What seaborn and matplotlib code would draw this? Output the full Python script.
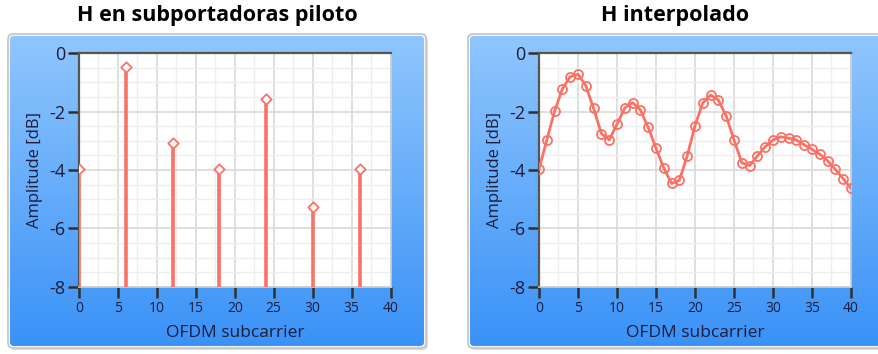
import numpy as np
import matplotlib
matplotlib.use("Agg")
import matplotlib.pyplot as plt
from matplotlib.patches import FancyBboxPatch
from matplotlib.ticker import MultipleLocator
import pandas as pd
import seaborn as sns

# pilot subcarriers (left panel)
pilot_carrier = [0, 6, 12, 18, 24, 30, 36]
pilot_db = [-3.98, -0.48, -3.06, -3.98, -1.58, -5.26, -3.98]

# interpolated channel (right panel)
interp_carrier = list(range(41))
interp_db = [-3.98, -2.97, -1.98, -1.22, -0.80, -0.72, -1.11, -1.89, -2.75, -2.97,
             -2.43, -1.87, -1.69, -1.94, -2.54, -3.25, -3.94, -4.46, -4.35, -3.52,
             -2.48, -1.70, -1.43, -1.60, -2.15, -2.97, -3.75, -3.85, -3.52, -3.20,
             -2.97, -2.86, -2.91, -2.97, -3.14, -3.29, -3.46, -3.68, -3.98, -4.30,
             -4.63]

W, H = 879, 354
RED = "#fa7166"
TXT = "#1c1c3a"

sns.set_theme(style="white")
plt.rcParams["font.family"] = ["Open Sans", "DejaVu Sans"]
plt.rcParams["axes.unicode_minus"] = False

fig = plt.figure(figsize=(W / 100, H / 100), dpi=100)

# background panels (pixel coordinates)
bg = fig.add_axes([0, 0, 1, 1], zorder=-5)
bg.axis("off")

grad = np.linspace(0, 1, 256).reshape(-1, 1)
cmap = matplotlib.colors.LinearSegmentedColormap.from_list("panel", ["#90c6fd", "#3a92f7"])

for x0, x1 in [(10, 424), (470, 886)]:
    y0, y1 = 36, 346
    shadow = FancyBboxPatch((x0, y0), x1 - x0 + 4, y1 - y0 + 4,
                            boxstyle="round,pad=0,rounding_size=5",
                            fc="#dcdcdc", ec="none", zorder=0)
    bg.add_patch(shadow)
    border = FancyBboxPatch((x0 - 2, y0 - 2), x1 - x0 + 4, y1 - y0 + 4,
                            boxstyle="round,pad=0,rounding_size=5",
                            fc="#f6f6f6", ec="#c4c4c4", lw=1.2, zorder=1)
    bg.add_patch(border)
    clip = FancyBboxPatch((x0, y0), x1 - x0, y1 - y0,
                          boxstyle="round,pad=0,rounding_size=4",
                          fc="none", ec="none", zorder=1)
    bg.add_patch(clip)
    im = bg.imshow(grad, extent=(x0, x1, y1, y0), cmap=cmap, aspect="auto", zorder=2)
    im.set_clip_path(clip)

bg.text(217, 15, "H en subportadoras piloto", ha="center", va="center",
        fontsize=15.5, fontweight="bold", color="black")
bg.text(675, 15, "H interpolado", ha="center", va="center",
        fontsize=15.5, fontweight="bold", color="black")
bg.set_xlim(0, W)
bg.set_ylim(H, 0)


def style_axes(ax):
    ax.set_facecolor("white")
    ax.xaxis.set_major_locator(MultipleLocator(5))
    ax.xaxis.set_minor_locator(MultipleLocator(2.5))
    ax.yaxis.set_major_locator(MultipleLocator(2))
    ax.yaxis.set_minor_locator(MultipleLocator(0.5))
    ax.set_xlim(0, 40)
    ax.set_ylim(-8, 0)
    ax.grid(which="major", color="#d9d9d9", lw=1.2)
    ax.grid(which="minor", color="#eeeeee", lw=1.0)
    ax.set_axisbelow(True)
    ax.tick_params(axis="both", which="major", direction="out", length=8,
                   width=1.8, color="#303030", bottom=True, left=True)
    ax.tick_params(axis="both", which="minor", length=0)
    ax.tick_params(axis="y", labelsize=13, labelcolor=TXT, pad=2)
    ax.tick_params(axis="x", labelsize=10, labelcolor=TXT, pad=2)
    for s in ["left", "top"]:
        ax.spines[s].set_color("#555555")
        ax.spines[s].set_linewidth(1.6)
    for s in ["right", "bottom"]:
        ax.spines[s].set_color("#cfcfcf")
        ax.spines[s].set_linewidth(1.2)
    ax.set_xlabel("OFDM subcarrier", fontsize=12.5, color=TXT, labelpad=7)
    ax.set_ylabel("Amplitude [dB]", fontsize=12, color=TXT, labelpad=4)


ax1 = fig.add_axes([79 / W, 1 - 286.7 / H, 311.7 / W, 233.4 / H])
ax2 = fig.add_axes([539 / W, 1 - 286.7 / H, 312 / W, 233.4 / H])

pilots = pd.DataFrame({"carrier": pilot_carrier, "db": pilot_db})
interp = pd.DataFrame({"carrier": interp_carrier, "db": interp_db})

ax1.vlines(pilots["carrier"], -8, pilots["db"], color=RED, lw=2.6, zorder=3)
sns.scatterplot(data=pilots, x="carrier", y="db", ax=ax1, marker="D", s=28,
                facecolor="white", edgecolor=RED, linewidth=1.3, zorder=4)

sns.lineplot(data=interp, x="carrier", y="db", ax=ax2, color=RED, lw=2.0,
             marker="o", markersize=6.5, markerfacecolor="none",
             markeredgecolor=RED, markeredgewidth=1.3, zorder=3)

for ax in (ax1, ax2):
    style_axes(ax)

fig.savefig("out.png", dpi=100)
